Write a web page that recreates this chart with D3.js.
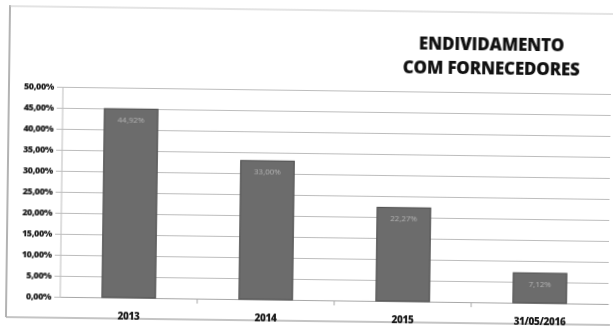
<!DOCTYPE html>
<html>
<head>
<meta charset="utf-8">
<script src="https://cdn.jsdelivr.net/npm/d3@7"></script>
<style>
  html, body { margin: 0; padding: 0; background: #fff; }
  svg { display: block; }
</style>
</head>
<body>
<svg id="chart" width="613" height="329"></svg>
<script>
// Endividamento com fornecedores, por período
const categories = ["2013", "2014", "2015", "31/05/2016"];
const values = [44.92, 33.00, 22.27, 7.12];
const valueLabels = ["44,92%", "33,00%", "22,27%", "7,12%"];
const yTicks = [0, 5, 10, 15, 20, 25, 30, 35, 40, 45, 50];
const titleLines = ["ENDIVIDAMENTO", "COM FORNECEDORES"];

const W = 613, H = 329;
const margin = { left: 62, right: 3, top: 87, bottom: 32 };
const svg = d3.select("#chart");

// scanned page sits slightly tilted
const root = svg.append("g")
  .attr("transform", "translate(0,3) rotate(0.75, 306, 160)")
  .style("filter", "blur(0.35px)");

// frame of the chart area
root.append("line").attr("x1", 8).attr("x2", 8).attr("y1", 6).attr("y2", 318)
  .attr("stroke", "#9a9a9a").attr("stroke-width", 1.5);
root.append("line").attr("x1", 8).attr("x2", 612).attr("y1", 7).attr("y2", 7)
  .attr("stroke", "#c8c8c8").attr("stroke-width", 1);
root.append("line").attr("x1", 8).attr("x2", 612).attr("y1", 318).attr("y2", 318)
  .attr("stroke", "#b0b0b0").attr("stroke-width", 1.5);

const x = d3.scaleBand().domain(categories)
  .range([margin.left, W - margin.right]).paddingInner(0.61).paddingOuter(0.305);
const y = d3.scaleLinear().domain([0, 50]).range([H - margin.bottom - 0, margin.top]);

// horizontal gridlines + y labels
const yAxis = d3.axisLeft(y).tickValues(yTicks)
  .tickSize(-(W - margin.right - margin.left + 6))
  .tickFormat(d => d3.format(".2f")(d).replace(".", ",") + "%");
const gy = root.append("g").attr("transform", `translate(${margin.left - 6},0)`).call(yAxis);
gy.select(".domain").remove();
gy.selectAll(".tick line").attr("stroke", "#bdbdbd").attr("stroke-width", 1);
gy.selectAll(".tick text")
  .attr("x", -3)
  .attr("fill", "#1a1a1a")
  .style("font-family", "'Open Sans', sans-serif")
  .style("font-weight", "800")
  .style("font-size", "9px")
  .style("letter-spacing", "-0.4px");

// vertical axis line
root.append("line")
  .attr("x1", margin.left).attr("x2", margin.left)
  .attr("y1", y(50)).attr("y2", y(0))
  .attr("stroke", "#bdbdbd");

// category axis
const bandStep = x.step();
const gx = root.append("g").attr("transform", `translate(0,${y(0)})`)
  .call(d3.axisBottom(x).tickSize(0).tickPadding(15));
gx.select(".domain").attr("stroke", "#a8a8a8");
gx.selectAll(".tick text")
  .attr("fill", "#1a1a1a")
  .style("font-family", "'Open Sans', sans-serif")
  .style("font-weight", "800")
  .style("font-size", "10px")
  .style("letter-spacing", "-0.4px");
// category boundary ticks
root.append("g").selectAll("line")
  .data(categories.slice(1))
  .join("line")
  .attr("x1", d => x(d) - (bandStep - x.bandwidth()) / 2)
  .attr("x2", d => x(d) - (bandStep - x.bandwidth()) / 2)
  .attr("y1", y(0)).attr("y2", y(0) + 5)
  .attr("stroke", "#a8a8a8");

// bars
root.append("g").selectAll("rect")
  .data(categories)
  .join("rect")
  .attr("x", d => x(d))
  .attr("width", x.bandwidth())
  .attr("y", (d, i) => y(values[i]))
  .attr("height", (d, i) => y(0) - y(values[i]))
  .attr("fill", "#6c6c6c")
  .attr("stroke", "#555")
  .attr("stroke-width", 1.2);

// value labels inside the bars
root.append("g").selectAll("text")
  .data(categories)
  .join("text")
  .attr("x", d => x(d) + x.bandwidth() / 2)
  .attr("y", (d, i) => y(values[i]) + 14)
  .attr("text-anchor", "middle")
  .attr("fill", "#b4b4b4")
  .style("font-family", "'Open Sans', sans-serif")
  .style("font-size", "8px")
  .text((d, i) => valueLabels[i]);

// title
root.append("g").selectAll("text")
  .data(titleLines)
  .join("text")
  .attr("x", 490)
  .attr("y", (d, i) => 45 + i * 24)
  .attr("text-anchor", "middle")
  .attr("fill", "#111")
  .style("font-family", "'Open Sans', sans-serif")
  .style("font-weight", "800")
  .style("font-size", "17px")
  .style("letter-spacing", "-0.2px")
  .text(d => d);
</script>
</body>
</html>
